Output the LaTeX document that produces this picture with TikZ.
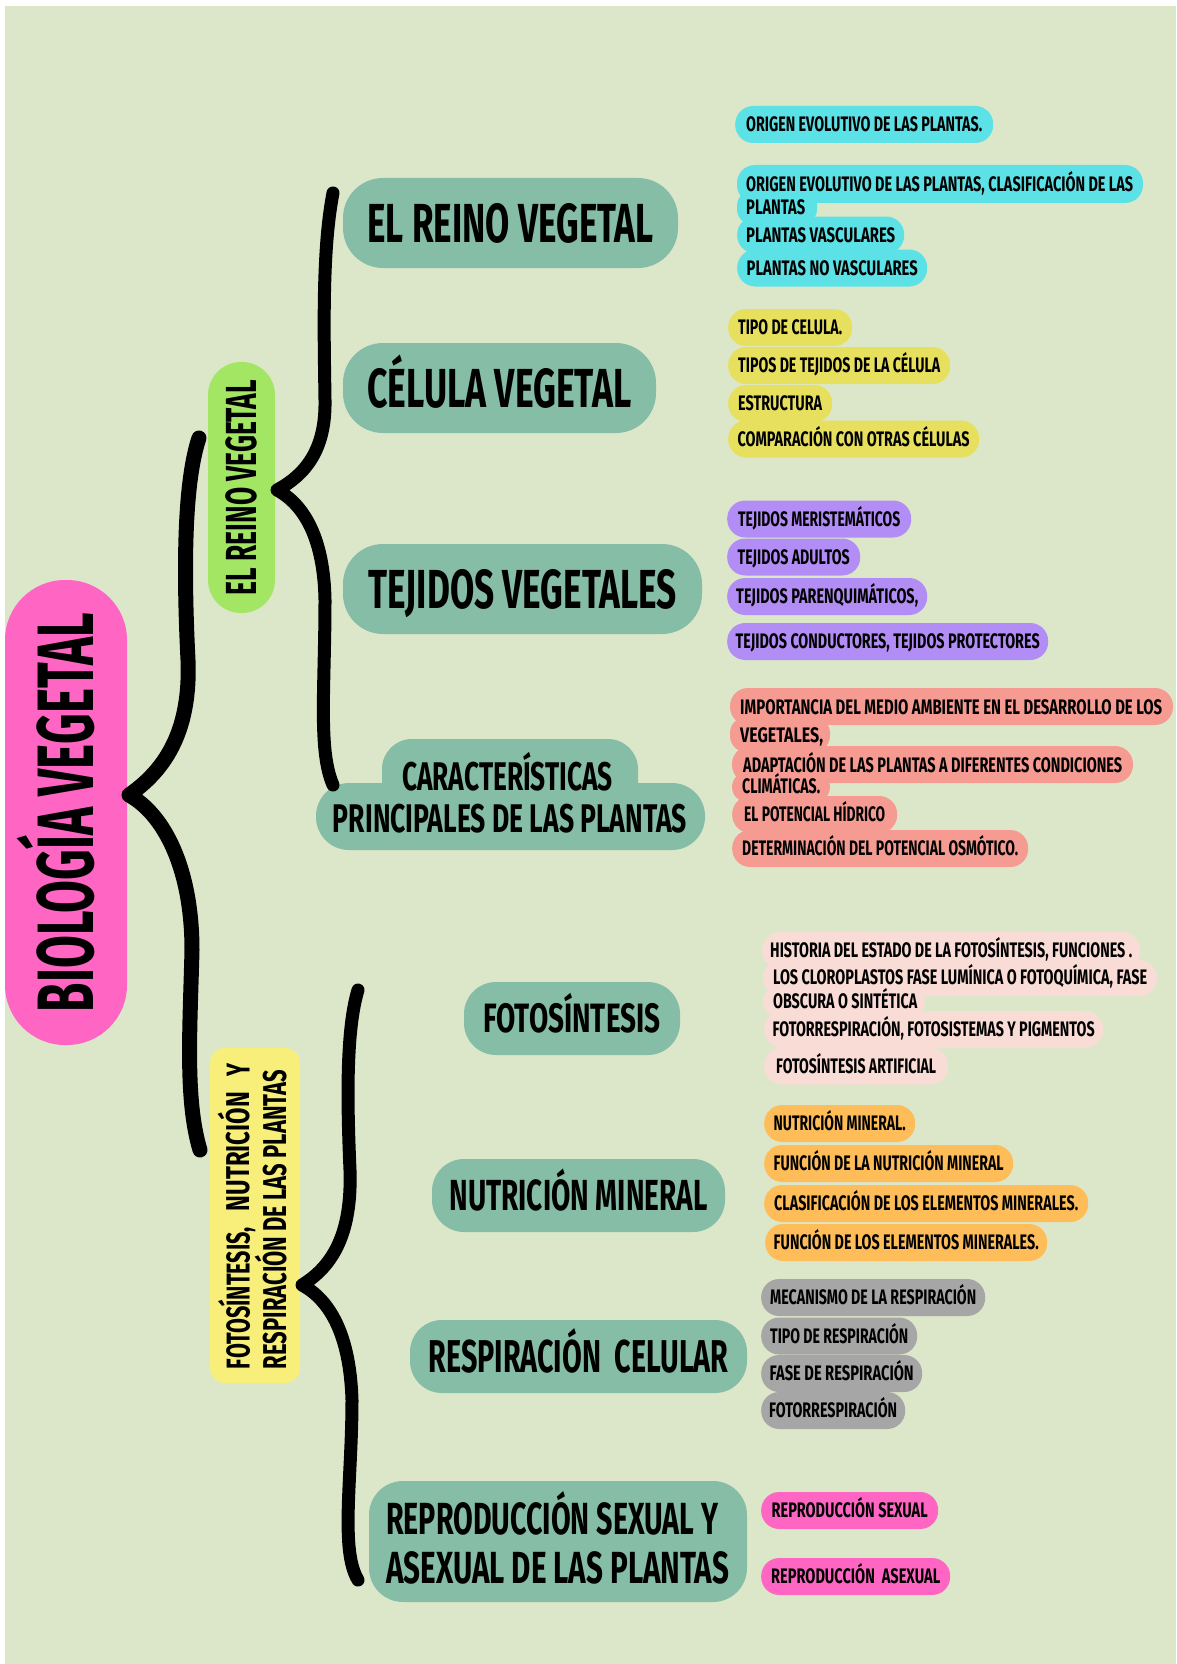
\documentclass[tikz,border=0pt]{standalone}
\usepackage{fontspec}
\setmainfont{Fira Sans}
\usepackage{graphicx}

\definecolor{bgC}{HTML}{DCE7CA}
\definecolor{tealC}{HTML}{85BDA6}
\definecolor{pinkC}{HTML}{FF66C4}
\definecolor{limeC}{HTML}{A2E664}
\definecolor{yelC}{HTML}{F8EF7B}
\definecolor{cyanC}{HTML}{5CE1E6}
\definecolor{mustC}{HTML}{E6E05E}
\definecolor{violC}{HTML}{B28DF6}
\definecolor{salmC}{HTML}{F59B91}
\definecolor{roseC}{HTML}{F9DCD6}
\definecolor{oranC}{HTML}{FFBD59}
\definecolor{grayC}{HTML}{A6A6A6}
\definecolor{magC}{HTML}{FF66C4}

% condense a text horizontally to a given width (in pt), keeping its height
\newcommand\hfit[2]{\resizebox{#1pt}{\height}{#2}}
\newcommand\fsz[1]{\fontsize{#1}{#1}\selectfont\bfseries}

\tikzset{
  capt/.style={inner sep=0pt, text height=#1pt, text depth=0pt},
  pill/.style={fill=#1, rounded corners=18pt, minimum height=37pt, capt=14.5, anchor=west, font=\fsz{21}},
  ltext/.style={capt=14.5, anchor=west, font=\fsz{21}},
  topic/.style={fill=tealC, capt=#1},
  brace/.style={draw=black, line cap=round, line join=round},
}

\begin{document}
\begin{tikzpicture}[x=1pt,y=-1pt]
\useasboundingbox (0,0) rectangle (1176,1664);
\fill[white] (0,0) rectangle (1176,1664);
\fill[bgC] (5,6) rectangle (1176,1664);

% ---------- left column ----------
\node[fill=pinkC, rounded corners=60pt, minimum width=465pt, minimum height=122pt,
      rotate=90, capt=55, font=\fsz{80}] (title) at (66,812.5) {\hfit{399}{BIOLOGÍA VEGETAL}};

\node[fill=limeC, rounded corners=33pt, minimum width=251pt, minimum height=67pt,
      rotate=90, capt=30, font=\fsz{43.5}] (reinoside) at (241.5,487.5) {\hfit{215}{EL REINO VEGETAL}};

\fill[yelC, rounded corners=15pt] (210,1048) rectangle (300,1383);
\node[rotate=90, capt=23, font=\fsz{33}] (fotoside) at (238,1216)
  {\hbox to 306pt{\hfit{142}{FOTOSÍNTESIS,}\hfill\hfit{119}{NUTRICIÓN}\hfill\hfit{13}{Y}}};
\node[rotate=90, capt=23, font=\fsz{33}] (respside) at (274.5,1219.5)
  {\hfit{299}{RESPIRACIÓN DE LAS PLANTAS}};

% ---------- topics ----------
\node[topic=38, minimum width=335pt, minimum height=90pt, rounded corners=40pt, font=\fsz{55}] (reino) at (510.5,223) {\hfit{286}{EL REINO VEGETAL}};
\node[topic=38, minimum width=313pt, minimum height=90pt, rounded corners=40pt, font=\fsz{55}] (celula) at (499.5,388) {\hfit{264}{CÉLULA VEGETAL}};
\node[topic=38, minimum width=359pt, minimum height=90pt, rounded corners=40pt, font=\fsz{55}] (tejidos) at (522.5,589) {\hfit{308}{TEJIDOS VEGETALES}};

\fill[tealC, rounded corners=30pt] (382,739) rectangle (638,815);
\fill[tealC, rounded corners=33pt] (316,783) rectangle (705,850);
\node[capt=27.5, font=\fsz{40}] (caracta) at (507.5,776.5) {\hfit{211}{CARACTERÍSTICAS}};
\node[capt=27.5, font=\fsz{40}] (caractb) at (510,819) {\hfit{354}{PRINCIPALES DE LAS PLANTAS}};

\node[topic=28, minimum width=216pt, minimum height=73pt, rounded corners=32pt, font=\fsz{41}] (foto) at (572,1018.5) {\hfit{177}{FOTOSÍNTESIS}};
\node[topic=30, minimum width=293pt, minimum height=73pt, rounded corners=32pt, font=\fsz{43.5}] (nutri) at (578.5,1195.5) {\hfit{258}{NUTRICIÓN MINERAL}};
\node[topic=32, minimum width=337pt, minimum height=73pt, rounded corners=32pt, font=\fsz{46}] (resp) at (578.5,1356.5) {\hfit{300}{RESPIRACIÓN\ \ CELULAR}};

\fill[tealC, rounded corners=34pt] (369,1481) rectangle (747,1602);
\node[capt=31, anchor=west, font=\fsz{45}] (reproa) at (386,1518.5) {\hfit{332}{REPRODUCCIÓN SEXUAL Y}};
\node[capt=31, anchor=west, font=\fsz{45}] (reprob) at (386,1567.5) {\hfit{343}{ASEXUAL DE LAS PLANTAS}};

% ---------- two-line detail backgrounds ----------
\fill[cyanC, rounded corners=18pt] (737,165) rectangle (1143,203);
\fill[cyanC, rounded corners=16pt] (737,190) rectangle (817,225);
\fill[salmC, rounded corners=18pt] (730,688) rectangle (1173,725);
\fill[salmC, rounded corners=16pt] (730,717) rectangle (830,752);
\fill[salmC, rounded corners=18pt] (732,746) rectangle (1133,783);
\fill[salmC, rounded corners=15pt] (732,772) rectangle (830,802);
\fill[roseC, rounded corners=18pt] (763,960) rectangle (1157,996);
\fill[roseC, rounded corners=15pt] (763,987) rectangle (925,1017);

% ---------- details ----------
\node[pill=cyanC, minimum width=258pt] (cy1) at (735,124.5) {\hfit{236}{ORIGEN EVOLUTIVO DE LAS PLANTAS.}};
\node[pill=cyanC, minimum width=167pt] (cy3) at (737,235) {\hfit{149}{PLANTAS VASCULARES}};
\node[pill=cyanC, minimum width=190pt] (cy4) at (737,268) {\hfit{171}{PLANTAS NO VASCULARES}};

\node[pill=mustC, minimum width=124pt] (mu1) at (728,327.5) {\hfit{104}{TIPO DE CELULA.}};
\node[pill=mustC, minimum width=222pt] (mu2) at (728,365.5) {\hfit{202}{TIPOS DE TEJIDOS DE LA CÉLULA}};
\node[pill=mustC, minimum width=104pt] (mu3) at (728,403.5) {\hfit{84}{ESTRUCTURA}};
\node[pill=mustC, minimum width=251pt] (mu4) at (728,439) {\hfit{232}{COMPARACIÓN CON OTRAS CÉLULAS}};

\node[pill=violC, minimum width=184pt] (vi1) at (727,519) {\hfit{162}{TEJIDOS MERISTEMÁTICOS}};
\node[pill=violC, minimum width=133pt] (vi2) at (727,557) {\hfit{112}{TEJIDOS ADULTOS}};
\node[pill=violC, minimum width=200pt] (vi3) at (727,596.5) {\hfit{182}{TEJIDOS PARENQUIMÁTICOS,}};
\node[pill=violC, minimum width=321pt] (vi4) at (727,641.5) {\hfit{304}{TEJIDOS CONDUCTORES, TEJIDOS PROTECTORES}};

\node[pill=salmC, minimum width=165pt] (sa3) at (732,814.5) {\hfit{141}{EL POTENCIAL HÍDRICO}};
\node[pill=salmC, minimum width=296pt] (sa4) at (732,848.5) {\hfit{276}{DETERMINACIÓN DEL POTENCIAL OSMÓTICO.}};

\node[pill=roseC, minimum width=378pt] (ro1) at (762,950.5) {\hfit{362}{HISTORIA DEL ESTADO DE LA FOTOSÍNTESIS, FUNCIONES .}};
\node[pill=roseC, minimum width=339pt] (ro3) at (764,1029.5) {\hfit{322}{FOTORRESPIRACIÓN, FOTOSISTEMAS Y PIGMENTOS}};
\node[pill=roseC, minimum width=184pt] (ro4) at (764,1066) {\hfit{160}{FOTOSÍNTESIS ARTIFICIAL}};

\node[pill=oranC, minimum width=151pt] (or1) at (764,1123.5) {\hfit{132}{NUTRICIÓN MINERAL.}};
\node[pill=oranC, minimum width=249pt] (or2) at (764,1163.5) {\hfit{230}{FUNCIÓN DE LA NUTRICIÓN MINERAL}};
\node[pill=oranC, minimum width=324pt] (or3) at (764,1203.5) {\hfit{304}{CLASIFICACIÓN DE LOS ELEMENTOS MINERALES.}};
\node[pill=oranC, minimum width=282pt] (or4) at (765,1242.5) {\hfit{265}{FUNCIÓN DE LOS ELEMENTOS MINERALES.}};

\node[pill=grayC, minimum width=224pt] (gr1) at (761,1297.5) {\hfit{206}{MECANISMO DE LA RESPIRACIÓN}};
\node[pill=grayC, minimum width=156pt] (gr2) at (761,1336) {\hfit{138}{TIPO DE RESPIRACIÓN}};
\node[pill=grayC, minimum width=161pt] (gr3) at (761,1373.5) {\hfit{144}{FASE DE RESPIRACIÓN}};
\node[pill=grayC, minimum width=144pt] (gr4) at (761,1410.5) {\hfit{128}{FOTORRESPIRACIÓN}};

\node[pill=magC, minimum width=177pt] (mg1) at (761,1510.5) {\hfit{156}{REPRODUCCIÓN SEXUAL}};
\node[pill=magC, minimum width=189pt] (mg2) at (761,1576.5) {\hfit{169}{REPRODUCCIÓN\ \ ASEXUAL}};

% two-line detail texts
\node[ltext] (cy2a) at (746,184) {\hfit{387}{ORIGEN EVOLUTIVO DE LAS PLANTAS, CLASIFICACIÓN DE LAS}};
\node[ltext] (cy2b) at (746,207.5) {\hfit{59}{PLANTAS}};
\node[ltext] (sa1a) at (740,707.5) {\hfit{422}{IMPORTANCIA DEL MEDIO AMBIENTE EN EL DESARROLLO DE LOS}};
\node[ltext] (sa1b) at (740,735) {\hfit{83}{VEGETALES,}};
\node[ltext] (sa2a) at (743,765) {\hfit{379}{ADAPTACIÓN DE LAS PLANTAS A DIFERENTES CONDICIONES}};
\node[ltext] (sa2b) at (742,786.5) {\hfit{78}{CLIMÁTICAS.}};
\node[ltext] (ro2a) at (773,977.5) {\hfit{374}{LOS CLOROPLASTOS FASE LUMÍNICA O FOTOQUÍMICA, FASE}};
\node[ltext] (ro2b) at (773,1001.5) {\hfit{144}{OBSCURA O SINTÉTICA}};

% ---------- braces ----------
\coordinate (mtop) at (199,438);
\coordinate (mtip) at (129,795);
\coordinate (mbot) at (200,1150);
\draw[brace, line width=15pt] (mtop) .. controls (185,480) and (183,560) .. (188,660)
  .. controls (191,735) and (162,772) .. (mtip)
  .. controls (165,815) and (192,870) .. (192,950)
  .. controls (190,1030) and (185,1100) .. (mbot);

\coordinate (atop) at (333,193);
\coordinate (atip) at (277,490);
\coordinate (abot) at (333,785);
\draw[brace, line width=13pt] (atop) .. controls (322,250) and (324,330) .. (325,400)
  .. controls (326,450) and (305,475) .. (atip)
  .. controls (305,505) and (324,540) .. (325,600)
  .. controls (325,690) and (318,750) .. (abot);

\coordinate (btop) at (358,990);
\coordinate (btip) at (302,1285);
\coordinate (bbot) at (358,1580);
\draw[brace, line width=13pt] (btop) .. controls (346,1030) and (347,1100) .. (350,1170)
  .. controls (352,1230) and (335,1265) .. (btip)
  .. controls (330,1300) and (350,1335) .. (352,1400)
  .. controls (352,1480) and (340,1550) .. (bbot);
\end{tikzpicture}
\end{document}
